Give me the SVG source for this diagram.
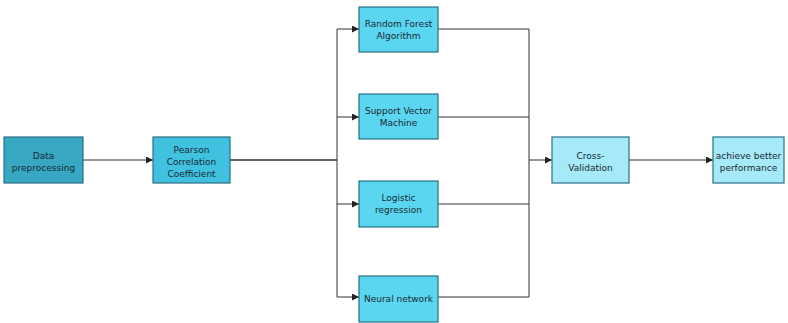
<svg xmlns="http://www.w3.org/2000/svg" width="788" height="323" viewBox="0 0 788 323">
<defs>
<marker id="ah" viewBox="0 0 10 10" refX="10" refY="5" markerWidth="7" markerHeight="7" markerUnits="userSpaceOnUse" orient="auto">
<path d="M0,0 L10,5 L0,10 z" fill="#222"/>
</marker>
</defs>
<style>
.box{stroke:#2a6f82;stroke-width:1.2}
.t{font-family:"DejaVu Sans",Verdana,sans-serif;font-size:9px;fill:#1a2a33;text-anchor:middle}
.c{fill:none;stroke:#333;stroke-width:1}
</style>
<rect width="788" height="323" fill="#fff"/>
<g id="connectors">
<line class="c" x1="83" y1="160" x2="153" y2="160" marker-end="url(#ah)"/>
<line class="c" x1="230" y1="160" x2="337" y2="160" style="stroke-width:1.6"/>
<polyline class="c" points="337,29 337,297"/>
<line class="c" x1="337" y1="29" x2="359" y2="29" marker-end="url(#ah)"/>
<line class="c" x1="337" y1="117" x2="359" y2="117" marker-end="url(#ah)"/>
<line class="c" x1="337" y1="204" x2="359" y2="204" marker-end="url(#ah)"/>
<line class="c" x1="337" y1="297" x2="359" y2="297" marker-end="url(#ah)"/>
<line class="c" x1="438" y1="29" x2="529" y2="29"/>
<line class="c" x1="438" y1="117" x2="529" y2="117"/>
<line class="c" x1="438" y1="204" x2="529" y2="204"/>
<line class="c" x1="438" y1="297" x2="529" y2="297"/>
<polyline class="c" points="529,29 529,297"/>
<line class="c" x1="529" y1="160" x2="552" y2="160" marker-end="url(#ah)"/>
<line class="c" x1="629" y1="160" x2="713" y2="160" marker-end="url(#ah)"/>
</g>
<g id="data-preprocessing">
<rect class="box" x="4" y="137" width="79" height="46" fill="#37a7c2"/>
<text class="t" x="43.5" y="159">Data</text>
<text class="t" x="43.5" y="170.5">preprocessing</text>
</g>
<g id="pearson">
<rect class="box" x="153" y="137" width="77" height="46" fill="#3fc1df"/>
<text class="t" x="191.5" y="152.5">Pearson</text>
<text class="t" x="191.5" y="164.5">Correlation</text>
<text class="t" x="191.5" y="176.5">Coefficient</text>
</g>
<g id="random-forest">
<rect class="box" x="359" y="7" width="79" height="45" fill="#5ad6f0"/>
<text class="t" x="398.5" y="27">Random Forest</text>
<text class="t" x="398.5" y="39">Algorithm</text>
</g>
<g id="svm">
<rect class="box" x="359" y="94" width="79" height="45" fill="#5ad6f0"/>
<text class="t" x="398.5" y="114">Support Vector</text>
<text class="t" x="398.5" y="126">Machine</text>
</g>
<g id="logistic">
<rect class="box" x="359" y="181" width="79" height="46" fill="#5ad6f0"/>
<text class="t" x="398.5" y="201">Logistic</text>
<text class="t" x="398.5" y="213">regression</text>
</g>
<g id="neural">
<rect class="box" x="359" y="276" width="79" height="46" fill="#5ad6f0"/>
<text class="t" x="398.5" y="302">Neural network</text>
</g>
<g id="cross-validation">
<rect class="box" x="552" y="137" width="77" height="46" fill="#a6e9f8"/>
<text class="t" x="590.5" y="159">Cross-</text>
<text class="t" x="590.5" y="170.5">Validation</text>
</g>
<g id="achieve">
<rect class="box" x="713" y="137" width="71" height="46" fill="#a6e9f8"/>
<text class="t" x="748.5" y="159">achieve better</text>
<text class="t" x="748.5" y="170.5">performance</text>
</g>
</svg>
